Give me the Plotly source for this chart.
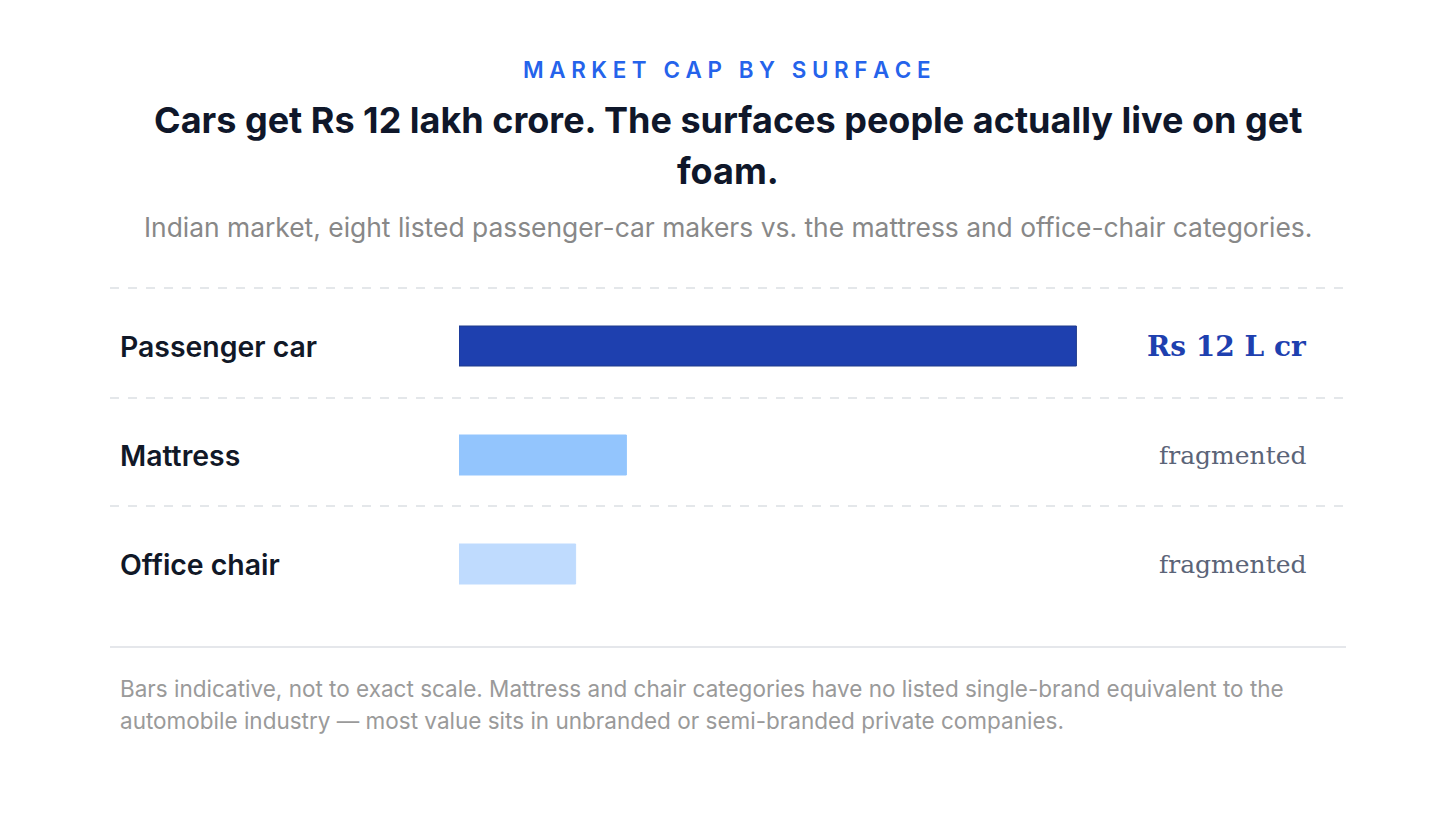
import plotly.graph_objects as go

W, H = 1456, 819

# ---- data ----
categories = ["Passenger car", "Mattress", "Office chair"]
values = [90, 24.4, 17]          # indicative bar lengths (not to exact scale)
value_labels = ["Rs 12 L cr", "fragmented", "fragmented"]
bar_colors = ["#1e40af", "#93c5fd", "#bfdbfe"]
bar_lines = ["#1e3a8a", "#93c5fd", "#bfdbfe"]

kicker = "MARKET CAP BY SURFACE"
title_lines = ["Cars get Rs 12 lakh crore. The surfaces people actually live on get", "foam."]
subtitle = "Indian market, eight listed passenger-car makers vs. the mattress and office-chair categories."
footer_lines = [
    "Bars indicative, not to exact scale. Mattress and chair categories have no listed single-brand equivalent to the",
    "automobile industry \u2014 most value sits in unbranded or semi-branded private companies.",
]

SANS = "Inter, Noto Sans, sans-serif"
SERIF = "Georgia, DejaVu Serif, serif"
OFF = 8  # page body margin


def py(pix):
    return 1 - (pix - OFF) / H


def px(pix):
    return (pix - OFF) / W


def spaced(s):
    out = []
    for ch in s:
        if ch == " ":
            out.append("\u2002")
        else:
            out.append(ch + "\u2005")
    return "".join(out).rstrip("\u2005")


fig = go.Figure()
fig.add_trace(go.Bar(
    orientation="h",
    x=values,
    y=categories,
    width=0.367,
    marker=dict(color=bar_colors, line=dict(color=bar_lines, width=1)),
    hoverinfo="skip",
))

annotations = []
# kicker
annotations.append(dict(text=spaced(kicker), x=px(727), y=py(70), xref="paper", yref="paper",
                        xanchor="center", yanchor="middle", showarrow=False,
                        font=dict(family=SANS, size=22.4, color="#2563eb", weight=600)))
# title
for t, yy in zip(title_lines, [120, 171]):
    annotations.append(dict(text=t, x=px(728), y=py(yy), xref="paper", yref="paper",
                            xanchor="center", yanchor="middle", showarrow=False,
                            font=dict(family=SANS, size=36, color="#0f172a", weight=700)))
# subtitle
annotations.append(dict(text=subtitle, x=px(728), y=py(227), xref="paper", yref="paper",
                        xanchor="center", yanchor="middle", showarrow=False,
                        font=dict(family=SANS, size=26.4, color="#888888")))
# category labels and value labels
for i, (c, v) in enumerate(zip(categories, value_labels)):
    annotations.append(dict(text=c, x=px(118), y=c, xref="paper", yref="y",
                            xanchor="left", yanchor="middle", showarrow=False,
                            font=dict(family=SANS, size=28.4, color="#111827", weight=600)))
    if i == 0:
        f = dict(family=SERIF, size=28, color="#1e40af", weight=700)
    else:
        f = dict(family=SERIF, size=25, color="#5b6478")
    annotations.append(dict(text=v, x=px(1309), y=c, xref="paper", yref="y",
                            xanchor="right", yanchor="middle", showarrow=False, font=f))
# footer
for t, yy in zip(footer_lines, [688, 720]):
    annotations.append(dict(text=t, x=px(118), y=py(yy), xref="paper", yref="paper",
                            xanchor="left", yanchor="middle", showarrow=False,
                            font=dict(family=SANS, size=22.5, color="#9a9a9a")))

shapes = []
for yy in [288, 398, 506]:
    shapes.append(dict(type="line", xref="paper", yref="paper", x0=px(110), x1=px(1346),
                       y0=py(yy), y1=py(yy), line=dict(color="#dcdfe4", width=1.5, dash="dash")))
shapes.append(dict(type="line", xref="paper", yref="paper", x0=px(110), x1=px(1346),
                   y0=py(647), y1=py(647), line=dict(color="#e5e7eb", width=2)))

fig.update_layout(
    width=W, height=H,
    margin=dict(l=0, r=0, t=0, b=0),
    paper_bgcolor="white", plot_bgcolor="white",
    showlegend=False,
    annotations=annotations,
    shapes=shapes,
    xaxis=dict(domain=[px(459), px(1145)], range=[0, 100], visible=False, fixedrange=True),
    yaxis=dict(domain=[py(618.5), py(291.5)], range=[2.5, -0.5], type="category",
               categoryorder="array", categoryarray=categories,
               visible=False, fixedrange=True),
)

fig.write_html("out.html", config={"displayModeBar": False})
